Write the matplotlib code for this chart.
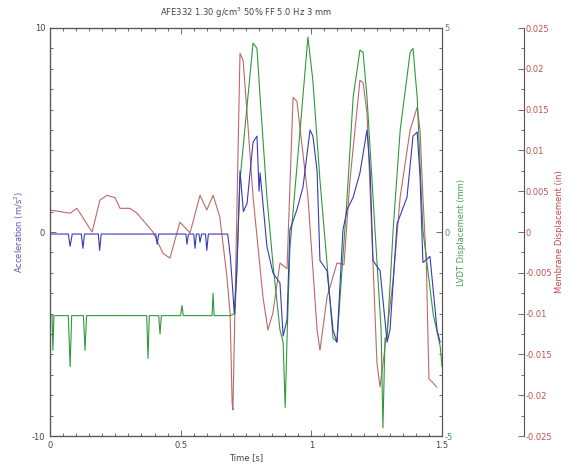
import matplotlib
matplotlib.use("Agg")
import matplotlib.pyplot as plt
from matplotlib.ticker import MultipleLocator, FixedLocator

title = "AFE332 1.30 g/cm$^3$ 50% FF 5.0 Hz 3 mm"

# Acceleration (m/s^2)
acc_t = [0.0, 0.07, 0.077, 0.085, 0.12, 0.126, 0.132, 0.185, 0.19, 0.196, 0.3, 0.405, 0.41, 0.416,
         0.52, 0.524, 0.53, 0.55, 0.555, 0.56, 0.57, 0.574, 0.58, 0.595, 0.6, 0.606, 0.68,
         0.69, 0.70, 0.705, 0.715, 0.727, 0.74, 0.754, 0.77, 0.777, 0.792, 0.80, 0.804, 0.83,
         0.853, 0.88, 0.892, 0.907, 0.918, 0.945, 0.968, 0.995, 1.006, 1.022, 1.033, 1.06,
         1.083, 1.098, 1.121, 1.137, 1.16, 1.186, 1.213, 1.225, 1.236, 1.263, 1.29, 1.301,
         1.328, 1.366, 1.389, 1.405, 1.416, 1.427, 1.454, 1.481, 1.493]
acc_v = [-0.1, -0.1, -0.7, -0.1, -0.1, -0.8, -0.1, -0.1, -0.9, -0.1, -0.1, -0.1, -0.6, -0.1,
         -0.1, -0.6, -0.1, -0.1, -0.8, -0.1, -0.1, -0.5, -0.1, -0.1, -0.9, -0.1, -0.1,
         -1.2, -3.0, -4.0, -2.0, 3.0, 1.0, 1.4, 3.5, 4.4, 4.7, 2.0, 2.9, -0.7,
         -2.0, -2.5, -5.1, -4.3, 0.1, 1.1, 2.2, 5.0, 4.7, 3.0, -1.4, -1.9,
         -4.8, -5.4, 0.1, 1.1, 1.7, 2.9, 5.0, 3.0, -1.4, -1.9, -5.4, -4.8,
         0.4, 1.7, 4.7, 4.9, 2.7, -1.5, -1.2, -4.8, -5.4]

# LVDT displacement (mm)
lvdt_t = [0.0, 0.008, 0.011, 0.015, 0.07, 0.077, 0.083, 0.128, 0.134, 0.14, 0.37, 0.375, 0.38,
          0.416, 0.421, 0.426, 0.5, 0.505, 0.51, 0.62, 0.624, 0.628, 0.69, 0.708, 0.727,
          0.777, 0.792, 0.804, 0.83, 0.853, 0.88, 0.892, 0.90, 0.907, 0.918, 0.957, 0.987,
          1.006, 1.033, 1.06, 1.083, 1.098, 1.137, 1.16, 1.186, 1.198, 1.213, 1.236, 1.267,
          1.274, 1.282, 1.29, 1.313, 1.34, 1.378, 1.389, 1.405, 1.427, 1.466, 1.493, 1.5]
lvdt_v = [-2.05, -2.05, -2.9, -2.05, -2.05, -3.3, -2.05, -2.05, -2.9, -2.05, -2.05, -3.1, -2.05,
          -2.05, -2.5, -2.05, -2.05, -1.8, -2.05, -2.05, -1.5, -2.05, -2.05, -2.0, 1.27,
          4.63, 4.5, 3.3, 0.86, -0.77, -2.4, -2.7, -4.3, -2.6, -0.4, 2.5, 4.78,
          3.7, 1.27, -0.77, -2.6, -2.7, 0.86, 3.3, 4.46, 4.4, 3.3, 0.86, -2.4,
          -4.8, -2.6, -2.6, 0.05, 2.5, 4.4, 4.5, 3.3, 0.05, -2.0, -2.8, -3.3]

# Membrane displacement (in)
mem_t = [0.0, 0.077, 0.103, 0.161, 0.191, 0.218, 0.249, 0.268, 0.306, 0.333, 0.394, 0.432,
         0.459, 0.497, 0.536, 0.574, 0.6, 0.624, 0.65, 0.677, 0.689, 0.697, 0.70, 0.727,
         0.739, 0.754, 0.777, 0.815, 0.834, 0.853, 0.88, 0.907, 0.93, 0.945, 0.987, 1.022,
         1.033, 1.06, 1.098, 1.125, 1.148, 1.186, 1.198, 1.213, 1.236, 1.251, 1.263, 1.29,
         1.313, 1.34, 1.378, 1.405, 1.416, 1.427, 1.44, 1.45, 1.466, 1.48]
mem_v = [0.0027, 0.0023, 0.0029, 0.0, 0.0039, 0.0045, 0.0042, 0.0029, 0.0029, 0.0023, 0.0, -0.0026,
         -0.0032, 0.0012, -0.0001, 0.0045, 0.0027, 0.0045, 0.0018, -0.0055, -0.0099, -0.021, -0.0218, 0.0219,
         0.021, 0.0146, 0.0043, -0.008, -0.012, -0.0099, -0.0038, -0.0045, 0.0165, 0.016, 0.0043, -0.012,
         -0.0145, -0.008, -0.0038, -0.004, 0.0064, 0.0186, 0.0183, 0.0146, -0.0038, -0.016, -0.019, -0.012,
         -0.0059, 0.0043, 0.0125, 0.0153, 0.0125, 0.0043, -0.0038, -0.018, -0.0185, -0.019]

BLUE = "#3a3ab8"
GREEN = "#2f9a3c"
RED = "#c06868"
SPINE = "#555555"
FS = 6

fig = plt.figure(figsize=(5.71, 4.73), dpi=100)
ax = fig.add_axes([50/571, 37/473, 392/571, 408/473])
ax2 = ax.twinx()
ax3 = ax.twinx()
ax3.spines["right"].set_position(("outward", 59))

ax3.set_zorder(1)
ax2.set_zorder(2)
ax.set_zorder(3)
for a in (ax, ax2, ax3):
    a.patch.set_visible(False)
    for s in a.spines.values():
        s.set_color(SPINE)
        s.set_linewidth(0.8)

ax3.plot(mem_t, mem_v, color=RED, lw=0.8)
ax2.plot(lvdt_t, lvdt_v, color=GREEN, lw=0.8)
ax.plot(acc_t, acc_v, color=BLUE, lw=0.8)

ax.set_xlim(0, 1.5)
ax.set_ylim(-10, 10)
ax2.set_ylim(-5, 5)
ax3.set_ylim(-0.025, 0.025)

ax.xaxis.set_major_locator(FixedLocator([0, 0.5, 1, 1.5]))
ax.set_xticklabels(["0", "0.5", "1", "1.5"])
ax.xaxis.set_minor_locator(MultipleLocator(0.05))
ax.yaxis.set_major_locator(FixedLocator([-10, 0, 10]))
ax.set_yticklabels(["-10", "0", "10"])
ax.yaxis.set_minor_locator(MultipleLocator(1))
ax.tick_params(axis="both", which="both", direction="in", top=True, colors=SPINE,
               labelsize=FS, labelcolor="#444444")
ax.tick_params(which="major", length=4, width=0.6)
ax.tick_params(which="minor", length=2, width=0.6)

ax2.yaxis.set_major_locator(FixedLocator([-5, 0, 5]))
ax2.set_yticklabels(["-5", "0", "5"])
ax2.yaxis.set_minor_locator(MultipleLocator(0.5))
ax2.tick_params(axis="y", which="both", direction="in", colors=SPINE, labelsize=FS,
                labelcolor="#449955", pad=2)
ax2.tick_params(which="major", length=4, width=0.6)
ax2.tick_params(which="minor", length=2, width=0.6)

ax3_ticks = [-0.025, -0.02, -0.015, -0.01, -0.005, 0, 0.005, 0.01, 0.015, 0.02, 0.025]
ax3.yaxis.set_major_locator(FixedLocator(ax3_ticks))
ax3.set_yticklabels(["-0.025", "-0.02", "-0.015", "-0.01", "-0.005", "0", "0.005",
                     "0.01", "0.015", "0.02", "0.025"])
ax3.yaxis.set_minor_locator(MultipleLocator(0.0025))
ax3.tick_params(axis="y", which="both", direction="in", colors=SPINE, labelsize=FS,
                labelcolor="#c05050", pad=1)
ax3.tick_params(which="major", length=4, width=0.6)
ax3.tick_params(which="minor", length=2, width=0.6)

ax.set_xlabel("Time [s]", fontsize=FS, color="#444444", labelpad=2)
ax.set_ylabel("Acceleration (m/s$^2$)", fontsize=FS, color="#5a5ab8", labelpad=4)
ax2.set_ylabel("LVDT Displacement (mm)", fontsize=FS, color="#44a055", labelpad=3)
ax3.set_ylabel("Membrane Displacement (in)", fontsize=FS, color="#c04848", labelpad=2)
ax.set_title(title, fontsize=FS, color="#444444", pad=9)

fig.savefig("out.png", dpi=100)
